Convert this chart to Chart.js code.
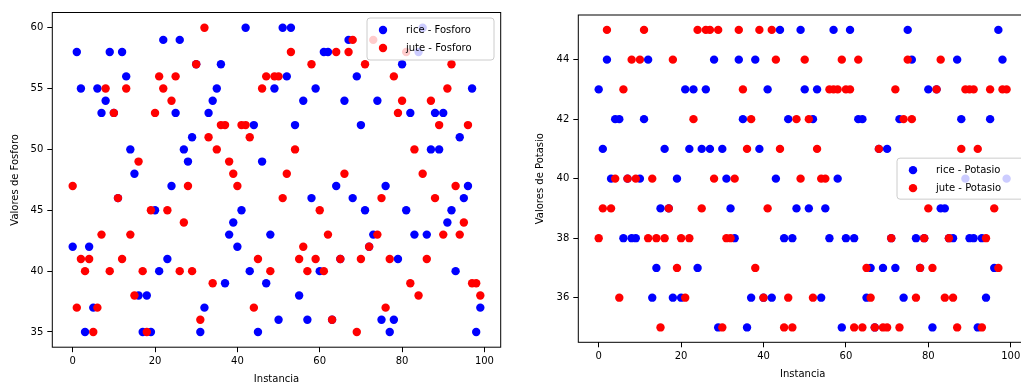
<!DOCTYPE html>
<html>
<head>
<meta charset="utf-8">
<script src="https://cdn.jsdelivr.net/npm/chart.js@4.4.0/dist/chart.umd.min.js"></script>
<style>
    html, body { margin: 0; padding: 0; background: #fff; overflow: hidden; width: 1021px; height: 385px; }
    #fosforoChart { position: absolute; left: 0; top: 0; }
    #potasioChart { position: absolute; left: 520px; top: 0; }
</style>
</head>
<body>
<canvas id="fosforoChart" width="515" height="385"></canvas>
<canvas id="potasioChart" width="530" height="385"></canvas>
<script>
// Instancia (index of each sample)
const instancia = [
    0, 1, 2, 3, 4, 5, 6, 7, 8, 9, 10, 11, 12, 13, 14, 15, 16, 17, 18, 19,
    20, 21, 22, 23, 24, 25, 26, 27, 28, 29, 30, 31, 32, 33, 34, 35, 36, 37, 38, 39,
    40, 41, 42, 43, 44, 45, 46, 47, 48, 49, 50, 51, 52, 53, 54, 55, 56, 57, 58, 59,
    60, 61, 62, 63, 64, 65, 66, 67, 68, 69, 70, 71, 72, 73, 74, 75, 76, 77, 78, 79,
    80, 81, 82, 83, 84, 85, 86, 87, 88, 89, 90, 91, 92, 93, 94, 95, 96, 97, 98, 99
];

// Fosforo values
const riceFosforo = [
    42, 58, 55, 35, 42, 37, 55, 53, 54, 58, 53, 46, 58, 56, 50, 48, 38, 35, 38, 35,
    45, 40, 59, 41, 47, 53, 59, 50, 49, 51, 57, 35, 37, 53, 54, 55, 57, 39, 43, 44,
    42, 45, 60, 40, 52, 35, 49, 39, 43, 55, 36, 60, 56, 60, 52, 38, 54, 36, 46, 55,
    40, 58, 58, 36, 47, 41, 54, 59, 46, 56, 52, 45, 42, 43, 54, 36, 47, 35, 36, 41,
    57, 45, 53, 43, 58, 60, 43, 50, 53, 50, 53, 44, 45, 40, 51, 46, 47, 55, 35, 37
];
const juteFosforo = [
    47, 37, 41, 40, 41, 35, 37, 43, 55, 40, 53, 46, 41, 55, 43, 38, 49, 40, 35, 45,
    53, 56, 55, 45, 54, 56, 40, 44, 47, 40, 57, 36, 60, 51, 39, 50, 52, 52, 49, 48,
    47, 52, 52, 51, 37, 41, 55, 56, 40, 56, 56, 46, 48, 58, 50, 41, 42, 40, 57, 41,
    45, 40, 43, 36, 58, 41, 48, 58, 59, 35, 41, 57, 42, 59, 43, 46, 37, 41, 56, 53,
    54, 58, 39, 50, 38, 48, 41, 54, 46, 52, 43, 55, 57, 47, 43, 44, 52, 39, 39, 38
];

// Potasio values
const ricePotasio = [
    43, 41, 44, 40, 42, 42, 38, 40, 38, 38, 40, 42, 44, 36, 37, 39, 41, 39, 36, 40,
    36, 43, 41, 43, 37, 41, 43, 41, 44, 35, 41, 40, 39, 38, 44, 42, 35, 36, 44, 41,
    36, 43, 36, 40, 45, 38, 42, 38, 39, 45, 43, 39, 42, 43, 36, 39, 38, 45, 40, 35,
    38, 45, 38, 42, 42, 36, 37, 35, 41, 37, 41, 38, 37, 42, 36, 45, 44, 38, 37, 38,
    43, 35, 43, 39, 39, 38, 38, 44, 42, 40, 38, 38, 35, 38, 36, 42, 37, 45, 44, 40
];
const jutePotasio = [
    38, 39, 45, 39, 40, 36, 43, 40, 44, 40, 44, 45, 38, 40, 38, 35, 38, 39, 44, 37,
    38, 36, 38, 42, 45, 39, 45, 45, 40, 45, 35, 38, 38, 40, 45, 43, 41, 42, 37, 45,
    36, 39, 45, 44, 41, 35, 36, 35, 42, 40, 44, 42, 36, 41, 40, 40, 43, 43, 43, 44,
    43, 43, 35, 44, 35, 37, 36, 35, 41, 35, 35, 38, 43, 35, 42, 44, 42, 36, 37, 38,
    39, 37, 43, 44, 36, 38, 36, 35, 41, 43, 43, 43, 41, 35, 38, 43, 39, 37, 43, 43
];

// Tick labels
const xTicks = [0, 20, 40, 60, 80, 100];
const yTicksFosforo = [35, 40, 45, 50, 55, 60];
const yTicksPotasio = [36, 38, 40, 42, 44];

Chart.defaults.font.family = "'DejaVu Sans', sans-serif";
Chart.defaults.font.size = 10;
Chart.defaults.color = '#000';

const toPoints = (ys) => instancia.map((x, i) => ({ x: x, y: ys[i] }));

// box around the plot plus a matplotlib-like legend
const framePlugin = {
    id: 'frame',
    afterDraw(chart, args, opts) {
        const { ctx, chartArea: a } = chart;
        ctx.save();
        ctx.strokeStyle = '#000';
        ctx.lineWidth = 1;
        ctx.strokeRect(a.left, a.top, a.right - a.left, a.bottom - a.top);

        const lg = opts.legend;
        const bx = a.right - lg.right - lg.width;
        const by = lg.vcenter ? (a.top + a.bottom) / 2 - lg.height / 2 : a.top + lg.top;
        ctx.beginPath();
        ctx.roundRect(bx, by, lg.width, lg.height, 3);
        ctx.fillStyle = 'rgba(255,255,255,0.8)';
        ctx.fill();
        ctx.strokeStyle = '#cccccc';
        ctx.stroke();

        ctx.font = "10px 'DejaVu Sans'";
        ctx.textBaseline = 'middle';
        chart.data.datasets.forEach((ds, i) => {
            const cy = by + 12 + i * 18;
            ctx.beginPath();
            ctx.arc(bx + 16, cy, 4.2, 0, Math.PI * 2);
            ctx.fillStyle = ds.backgroundColor;
            ctx.fill();
            ctx.fillStyle = '#000';
            ctx.fillText(ds.label, bx + 39, cy + 0.5);
        });
        ctx.restore();
    }
};

function makeChart(id, cfg) {
    const ctx = document.getElementById(id).getContext('2d');
    return new Chart(ctx, {
        type: 'scatter',
        data: {
            datasets: [{
                label: cfg.labels[0],
                data: toPoints(cfg.rice),
                backgroundColor: '#0000ff',
                pointRadius: 4.2,
                pointHoverRadius: 4.2,
                borderWidth: 0,
                order: 2
            }, {
                label: cfg.labels[1],
                data: toPoints(cfg.jute),
                backgroundColor: '#ff0000',
                pointRadius: 4.2,
                pointHoverRadius: 4.2,
                borderWidth: 0,
                order: 1
            }]
        },
        options: {
            responsive: false,
            animation: false,
            layout: { padding: cfg.padding },
            plugins: {
                legend: { display: false },
                tooltip: { enabled: false },
                frame: { legend: cfg.legend }
            },
            scales: {
                x: {
                    type: 'linear',
                    min: -4.95,
                    max: 103.95,
                    afterBuildTicks: (s) => { s.ticks = xTicks.map(v => ({ value: v })); },
                    afterFit: (s) => { s.height = cfg.xHeight; },
                    grid: { display: true, drawOnChartArea: false, drawTicks: true, tickLength: 5, color: '#000' },
                    border: { display: false },
                    ticks: { autoSkip: false, maxRotation: 0, padding: 3 },
                    title: { display: true, text: 'Instancia', padding: { top: 0, bottom: cfg.xTitlePad } }
                },
                y: {
                    type: 'linear',
                    min: cfg.yMin,
                    max: cfg.yMax,
                    afterBuildTicks: (s) => { s.ticks = cfg.yTicks.map(v => ({ value: v })); },
                    afterFit: (s) => { s.width = cfg.yWidth; },
                    grid: { display: true, drawOnChartArea: false, drawTicks: true, tickLength: 5, color: '#000' },
                    border: { display: false },
                    ticks: { autoSkip: false, padding: 4 },
                    title: { display: true, text: cfg.yTitle, padding: { top: cfg.yTitlePad, bottom: 0 } }
                }
            }
        },
        plugins: [framePlugin]
    });
}

makeChart('fosforoChart', {
    labels: ['rice - Fosforo', 'jute - Fosforo'],
    rice: riceFosforo,
    jute: juteFosforo,
    yMin: 33.75,
    yMax: 61.25,
    yTicks: yTicksFosforo,
    yTitle: 'Valores de Fosforo',
    padding: { left: 0, top: 12.5, right: 14.3, bottom: 0 },
    yWidth: 52.3,
    xHeight: 37.8,
    xTitlePad: 0,
    yTitlePad: 9,
    legend: { width: 127, height: 42, right: 6.7, top: 5.5, vcenter: false }
});

makeChart('potasioChart', {
    labels: ['rice - Potasio', 'jute - Potasio'],
    rice: ricePotasio,
    jute: jutePotasio,
    yMin: 34.5,
    yMax: 45.5,
    yTicks: yTicksPotasio,
    yTitle: 'Valores de Potasio',
    padding: { left: 0, top: 15, right: 23, bottom: 0 },
    yWidth: 58.3,
    xHeight: 42.7,
    xTitlePad: 5,
    yTitlePad: 14.7,
    legend: { width: 127, height: 41, right: 3, vcenter: true }
});
</script>
</body>
</html>
